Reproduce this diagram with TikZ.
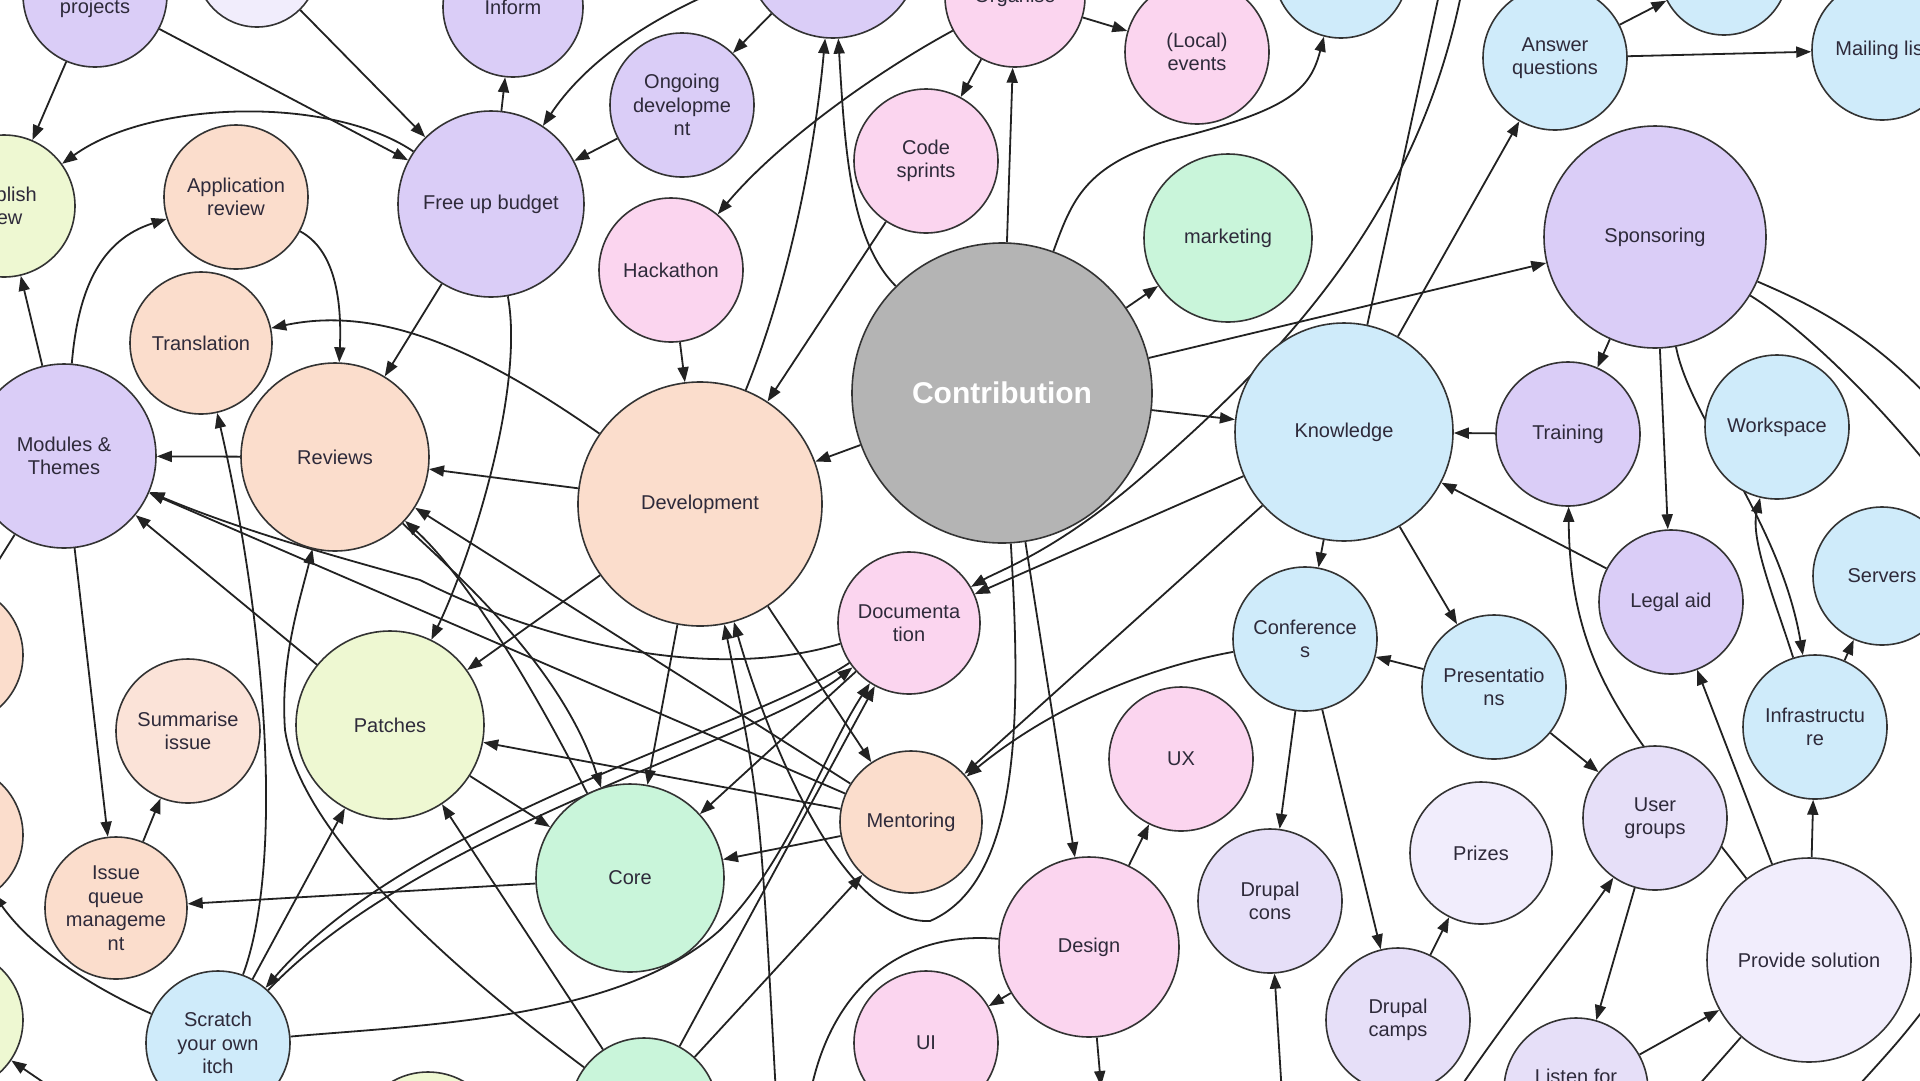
\documentclass[tikz,border=0pt]{standalone}
\usepackage{fontspec}
\setmainfont{Liberation Sans}
\usetikzlibrary{arrows.meta}
\definecolor{purp}{HTML}{DACDF7}
\definecolor{lpurp}{HTML}{E6DFF8}
\definecolor{vlpurp}{HTML}{F1EDFC}
\definecolor{pink}{HTML}{FBD5EF}
\definecolor{peach}{HTML}{FBDDCC}
\definecolor{lpeach}{HTML}{FBE3D8}
\definecolor{blue}{HTML}{CFEBFA}
\definecolor{green}{HTML}{C9F5DA}
\definecolor{ygreen}{HTML}{EEF8D2}
\definecolor{grey}{HTML}{B4B4B4}
\definecolor{rim}{HTML}{333333}
\definecolor{wire}{HTML}{222222}
\definecolor{ink}{HTML}{2E2A3A}
\pgfdeclarelayer{bg}
\pgfsetlayers{bg,main}
\begin{document}
\begin{tikzpicture}[x=1pt,y=-1pt,
  bub/.style 2 args={circle,draw=rim,line width=1.6pt,inner sep=0pt,align=center,
    text=ink,font=\fontsize{20}{23.5}\selectfont,fill=#1,minimum size=#2pt},
  lbl/.style={text=ink,font=\fontsize{20}{23.5}\selectfont,inner sep=0pt},
  ar/.style={draw=wire,line width=1.8pt,-{Triangle[length=15pt,width=11pt]}},
  pl/.style={draw=wire,line width=1.8pt}]
\useasboundingbox (0,0) rectangle (1920,1080);
\begin{pgfonlayer}{bg}
\fill[white] (0,0) rectangle (1920,1080);
\end{pgfonlayer}

% ---- bubbles ----
\node[bub={purp}{144}] (proj) at (95,-5) {};
\node[lbl] (projt) at (95,8) {projects};
\node[bub={vlpurp}{122}] (topL) at (257,-34) {};
\node[bub={purp}{140}] (inform) at (513,7) {Inform};
\node[bub={purp}{174}] (topB) at (833,-49) {};
\node[bub={pink}{140}] (organise) at (1015,-3) {Organise};
\node[bub={pink}{144}] (local) at (1197,52) {(Local)\\events};
\node[bub={blue}{134}] (topBlue) at (1341,-29) {};
\node[bub={blue}{128}] (topBlueR) at (1724,-29) {};
\node[bub={blue}{144}] (answer) at (1555,58) {Answer\\questions};
\node[bub={blue}{140}] (mailing) at (1882,50) {Mailing list};
\node[bub={purp}{222}] (sponsor) at (1655,237) {Sponsoring};
\node[bub={grey}{300},text=white,font=\fontsize{30}{34}\selectfont\bfseries] (contrib) at (1002,393) {Contribution};
\node[bub={green}{168}] (marketing) at (1228,238) {marketing};
\node[bub={blue}{218}] (knowledge) at (1344,432) {Knowledge};
\node[bub={purp}{144}] (training) at (1568,434) {Training};
\node[bub={blue}{144}] (workspace) at (1777,427) {Workspace};
\node[bub={blue}{138}] (servers) at (1882,576) {Servers};
\node[bub={purp}{144}] (legal) at (1671,602) {Legal aid};
\node[bub={blue}{144}] (infra) at (1815,727) {Infrastructu\\re};
\node[bub={blue}{144}] (present) at (1494,687) {Presentatio\\ns};
\node[bub={blue}{144}] (confs) at (1305,639) {Conference\\s};
\node[bub={pink}{142}] (docu) at (909,623) {Documenta\\tion};
\node[bub={peach}{244}] (dev) at (700,504) {Development};
\node[bub={pink}{144}] (hack) at (671,270) {Hackathon};
\node[bub={purp}{144}] (ongoing) at (682,105) {Ongoing\\developme\\nt};
\node[bub={pink}{144}] (code) at (926,161) {Code\\sprints};
\node[bub={purp}{186}] (budget) at (491,204) {Free up budget};
\node[bub={ygreen}{142}] (publish) at (4,206) {Publish\\new};
\node[bub={peach}{144}] (appreview) at (236,197) {Application\\review};
\node[bub={peach}{142}] (transl) at (201,343) {Translation};
\node[bub={peach}{188}] (reviews) at (335,457) {Reviews};
\node[bub={purp}{184}] (modules) at (64,456) {Modules \&\\Themes};
\node[bub={peach}{140}] (peachA) at (-47,655) {};
\node[bub={peach}{142}] (peachB) at (-48,835) {};
\node[bub={ygreen}{142}] (greenL) at (-48,1020) {};
\node[bub={lpeach}{144}] (summ) at (188,731) {Summarise\\issue};
\node[bub={peach}{142}] (issue) at (116,908) {Issue\\queue\\manageme\\nt};
\node[bub={ygreen}{188}] (patches) at (390,725) {Patches};
\node[bub={green}{188}] (core) at (630,878) {Core};
\node[bub={peach}{142}] (mentor) at (911,822) {Mentoring};
\node[bub={blue}{144}] (scratch) at (218,1043) {Scratch\\your own\\itch};
\node[bub={green}{148}] (greenB) at (644,1112) {};
\node[bub={ygreen}{144}] (oliveB) at (428,1144) {};
\node[bub={pink}{144}] (ui) at (926,1043) {UI};
\node[bub={pink}{180}] (design) at (1089,947) {Design};
\node[bub={pink}{144}] (ux) at (1181,759) {UX};
\node[bub={lpurp}{144}] (dcons) at (1270,901) {Drupal\\cons};
\node[bub={lpurp}{144}] (dcamps) at (1398,1020) {Drupal\\camps};
\node[bub={vlpurp}{142}] (prizes) at (1481,853) {Prizes};
\node[bub={lpurp}{144}] (ugroups) at (1655,818) {User\\groups};
\node[bub={vlpurp}{204}] (provide) at (1809,960) {Provide solution};
\node[bub={lpurp}{144}] (listen) at (1576,1090) {};
\node[lbl] (listent) at (1576,1076) {Listen for};

% ---- loose ends beyond the frame ----
\coordinate (offKa) at (1440,-10);
\coordinate (offKb) at (1462,-10);
\coordinate (offDc) at (1282,1095);
\coordinate (offUg) at (1455,1095);
\coordinate (offPs) at (1690,1095);
\coordinate (offS1) at (1940,410);
\coordinate (offS2) at (1940,480);
\coordinate (offR1) at (1935,995);
\coordinate (offR2) at (1850,1095);
\coordinate (offDv) at (776,1095);
\coordinate (offDs) at (810,1095);
\coordinate (offDd) at (1101,1086);
\coordinate (offMl) at (-20,590);
\coordinate (offGl) at (62,1095);

% ---- connectors ----
\begin{pgfonlayer}{bg}
\draw[ar] (proj) -- (publish);
\draw[ar] (proj) -- (budget);
\draw[ar] (topL) -- (budget);
\draw[ar] (budget) .. controls (330,95) and (150,100) .. (publish);
\draw[ar] (appreview) .. controls (335,250) and (342,300) .. (reviews);
\draw[ar] (modules) .. controls (78,290) and (100,240) .. (appreview);
\draw[ar] (modules) -- (publish);
\draw[ar] (dev) .. controls (480,350) and (380,305) .. (transl);
\draw[ar] (budget) -- (reviews);
\draw[ar] (budget) .. controls (525,390) and (470,560) .. (patches);
\draw[ar] (budget) -- (inform);
\draw[ar] (topB) .. controls (700,-5) and (600,40) .. (budget);
\draw[ar] (ongoing) -- (budget);
\draw[ar] (topB) -- (ongoing);
\draw[ar] (organise) .. controls (880,70) and (780,140) .. (hack);
\draw[ar] (dev) .. controls (790,280) and (815,150) .. (topB);
\draw[ar] (contrib) .. controls (850,240) and (845,150) .. (topB);
\draw[ar] (code) -- (dev);
\draw[ar] (hack) -- (dev);
\draw[ar] (contrib) -- (dev);
\draw[ar] (contrib) -- (organise);
\draw[ar] (organise) -- (local);
\draw[ar] (organise) -- (code);
\draw[ar] (contrib) .. controls (1072,200) and (1085,165) .. (1170,140) .. controls (1290,110) and (1310,90) .. (topBlue);
\draw[ar] (contrib) -- (marketing);
\draw[ar] (contrib) -- (sponsor);
\draw[ar] (contrib) -- (knowledge);
\draw[ar] (knowledge) -- (answer);
\draw[pl] (knowledge) -- (offKa);
\draw[ar] (answer) -- (topBlueR);
\draw[ar] (answer) -- (mailing);
\draw[ar] (sponsor) -- (training);
\draw[ar] (sponsor) -- (legal);
\draw[ar] (sponsor) .. controls (1690,420) and (1780,520) .. (infra);
\draw[ar] (infra) .. controls (1775,600) and (1750,540) .. (workspace);
\draw[ar] (infra) -- (servers);
\draw[ar] (provide) -- (infra);
\draw[ar] (provide) -- (legal);
\draw[ar] (provide) .. controls (1640,740) and (1570,680) .. (training);
\draw[ar] (legal) -- (knowledge);
\draw[ar] (training) -- (knowledge);
\draw[ar] (knowledge) -- (present);
\draw[ar] (knowledge) -- (confs);
\draw[ar] (present) -- (confs);
\draw[ar] (present) -- (ugroups);
\draw[ar] (confs) -- (dcons);
\draw[ar] (confs) -- (dcamps);
\draw[ar] (dcamps) -- (prizes);
\draw[ar] (offDc) -- (dcons);
\draw[ar] (ugroups) -- (listen);
\draw[ar] (listen) -- (provide);
\draw[ar] (offUg) .. controls (1520,1000) and (1570,940) .. (ugroups);
\draw[pl] (provide) -- (offPs);
\draw[pl] (sponsor) .. controls (1800,300) and (1870,330) .. (offS1);
\draw[pl] (sponsor) .. controls (1790,320) and (1860,380) .. (offS2);
\draw[pl] (offR1) .. controls (1900,1040) .. (offR2);
\draw[ar] (knowledge) -- (docu);
\draw[ar] (offKb) .. controls (1420,200) and (1300,340) .. (1150,470) .. controls (1060,550) and (1000,570) .. (docu);
\draw[ar] (knowledge) -- (mentor);
\draw[ar] (confs) .. controls (1160,665) and (1060,700) .. (mentor);
\draw[ar] (contrib) -- (design);
\draw[ar] (contrib) .. controls (1020,700) and (1025,880) .. (930,921) .. controls (840,925) and (765,730) .. (dev);
\draw[ar] (offDv) .. controls (760,800) .. (dev);
\draw[pl] (design) .. controls (900,930) and (830,990) .. (offDs);
\draw[ar] (design) -- (ux);
\draw[ar] (design) -- (ui);
\draw[ar] (design) -- (offDd);
\draw[ar] (dev) -- (mentor);
\draw[ar] (dev) -- (patches);
\draw[ar] (dev) -- (reviews);
\draw[ar] (reviews) -- (modules);
\draw[ar] (docu) .. controls (720,680) and (560,650) .. (420,580) .. controls (330,555) and (240,530) .. (modules);
\draw[ar] (patches) -- (modules);
\draw[ar] (modules) -- (issue);
\draw[ar] (issue) -- (summ);
\draw[pl] (modules) -- (offMl);
\draw[ar] (mentor) -- (reviews);
\draw[ar] (mentor) -- (modules);
\draw[ar] (reviews) .. controls (440,560) and (560,660) .. (core);
\draw[ar] (core) .. controls (540,700) and (470,580) .. (reviews);
\draw[ar] (patches) -- (core);
\draw[ar] (dev) -- (core);
\draw[ar] (docu) -- (core);
\draw[ar] (mentor) -- (core);
\draw[ar] (mentor) -- (patches);
\draw[ar] (core) -- (issue);
\draw[ar] (scratch) -- (patches);
\draw[ar] (scratch) .. controls (285,860) and (265,620) .. (transl);
\draw[ar] (greenB) .. controls (440,960) and (300,830) .. (285,730) .. controls (280,660) and (300,600) .. (reviews);
\draw[ar] (greenB) -- (patches);
\draw[ar] (scratch) .. controls (120,1000) and (40,960) .. (peachB);
\draw[ar] (offGl) -- (greenL);
\draw[ar] (scratch) .. controls (420,830) and (760,740) .. (docu);
\draw[ar] (docu) .. controls (752,728) and (412,818) .. (scratch);
\draw[ar] (scratch) .. controls (420,1025) and (620,1020) .. (720,930) .. controls (790,860) and (820,760) .. (docu);
\draw[ar] (greenB) -- (mentor);
\draw[ar] (greenB) -- (docu);
\end{pgfonlayer}
\end{tikzpicture}
\end{document}
